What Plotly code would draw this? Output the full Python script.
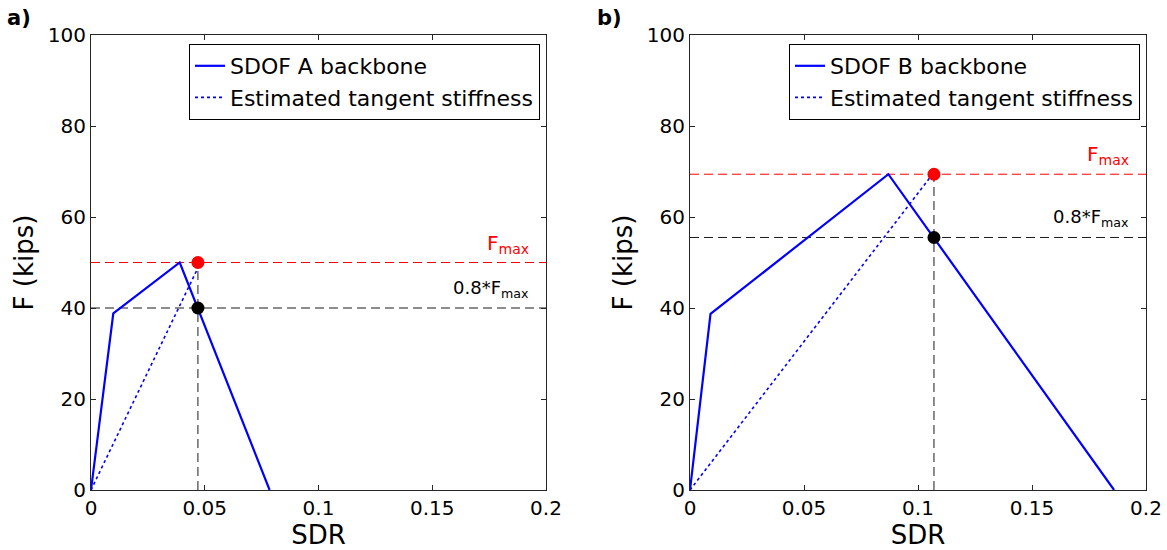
import plotly.graph_objects as go

# ---------------- data ----------------
sdr_A = [0.0, 0.0098, 0.039, 0.0785]
F_A = [0.0, 38.8, 50.0, 0.0]
tan_sdr_A = [0.0, 0.0465]
tan_F_A = [0.0, 48.3]
Fmax_A = 50.0
F08_A = 40.0
sdr_at_A = 0.047

sdr_B = [0.0, 0.009, 0.087, 0.186]
F_B = [0.0, 38.7, 69.4, 0.0]
tan_sdr_B = [0.0, 0.105]
tan_F_B = [0.0, 68.5]
Fmax_B = 69.4
F08_B = 55.5
sdr_at_B = 0.107

x_range = [0.0, 0.2]
y_range = [0.0, 100.0]
x_ticks = [0, 0.05, 0.1, 0.15, 0.2]
x_ticklabels = ["0", "0.05", "0.1", "0.15", "0.2"]
y_ticks = [0, 20, 40, 60, 80, 100]
legend_names_A = ["SDOF A backbone", "Estimated tangent stiffness"]
legend_names_B = ["SDOF B backbone", "Estimated tangent stiffness"]

# ---------------- style ----------------
FONT = "DejaVu Sans"
W, H = 1167, 550
BLUE = "#0000ff"
RED = "#ff0000"
GREY = "#1a1a1a"
AX = "#262626"

fig = go.Figure()


def add_panel(xa, ya, sdr, F, tsdr, tF, fmax, f08, sdr_at, names, legend):
    xref = "x" if xa == "" else "x" + xa
    yref = "y" if ya == "" else "y" + ya
    # reference dashed lines
    fig.add_trace(go.Scatter(x=x_range, y=[fmax, fmax], mode="lines",
                             line=dict(color=RED, width=1, dash="9px,5px"),
                             showlegend=False, xaxis=xref, yaxis=yref, hoverinfo="skip"))
    fig.add_trace(go.Scatter(x=x_range, y=[f08, f08], mode="lines",
                             line=dict(color=GREY, width=1, dash="9px,5px"),
                             showlegend=False, xaxis=xref, yaxis=yref, hoverinfo="skip"))
    fig.add_trace(go.Scatter(x=[sdr_at, sdr_at], y=[0, fmax], mode="lines",
                             line=dict(color=GREY, width=1, dash="9px,5px"),
                             showlegend=False, xaxis=xref, yaxis=yref, hoverinfo="skip"))
    # backbone
    fig.add_trace(go.Scatter(x=sdr, y=F, mode="lines", name=names[0],
                             line=dict(color=BLUE, width=2.2),
                             legend=legend, xaxis=xref, yaxis=yref))
    # tangent
    fig.add_trace(go.Scatter(x=tsdr, y=tF, mode="lines", name=names[1],
                             line=dict(color=BLUE, width=1.6, dash="dot"),
                             legend=legend, xaxis=xref, yaxis=yref))
    # markers
    fig.add_trace(go.Scatter(x=[sdr_at], y=[fmax], mode="markers",
                             marker=dict(color=RED, size=13),
                             showlegend=False, xaxis=xref, yaxis=yref))
    fig.add_trace(go.Scatter(x=[sdr_at], y=[f08], mode="markers",
                             marker=dict(color="black", size=13),
                             showlegend=False, xaxis=xref, yaxis=yref))
    # annotations
    fig.add_annotation(x=0.1934, y=fmax, xref=xref, yref=yref, xanchor="right",
                       yanchor="bottom", yshift=4, showarrow=False,
                       text="F<sub>max</sub>", font=dict(family=FONT, size=20, color=RED))
    fig.add_annotation(x=0.1934, y=f08, xref=xref, yref=yref, xanchor="right",
                       yanchor="bottom", yshift=5, showarrow=False,
                       text="0.8*F<sub>max</sub>", font=dict(family=FONT, size=18, color="black"))


add_panel("", "", sdr_A, F_A, tan_sdr_A, tan_F_A, Fmax_A, F08_A, sdr_at_A, legend_names_A, "legend")
add_panel("2", "2", sdr_B, F_B, tan_sdr_B, tan_F_B, Fmax_B, F08_B, sdr_at_B, legend_names_B, "legend2")

ydom = [1 - 490 / H, 1 - 35 / H]
xdomA = [91 / W, 546 / W]
xdomB = [690 / W, 1146 / W]

axis_common = dict(showline=True, linecolor=AX, linewidth=1, mirror="ticks",
                   ticks="inside", ticklen=5, tickcolor=AX, showgrid=False,
                   zeroline=False, tickfont=dict(family=FONT, size=20, color="black"),
                   automargin=False)

xa_common = dict(axis_common, range=x_range, tickvals=x_ticks, ticktext=x_ticklabels,
                 title=dict(text="SDR", font=dict(family=FONT, size=26, color="black"), standoff=4))
ya_common = dict(axis_common, range=y_range, tickvals=y_ticks,
                 title=dict(text="F (kips)", font=dict(family=FONT, size=26, color="black"), standoff=6))

legend_common = dict(bgcolor="white", bordercolor="black", borderwidth=1,
                     font=dict(family=FONT, size=22, color="black"),
                     xanchor="right", yanchor="top", tracegroupgap=0)

fig.update_layout(
    width=W, height=H,
    margin=dict(l=0, r=0, t=0, b=0),
    paper_bgcolor="white", plot_bgcolor="white",
    font=dict(family=FONT, color="black"),
    xaxis=dict(xa_common, domain=xdomA, anchor="y"),
    yaxis=dict(ya_common, domain=ydom, anchor="x"),
    xaxis2=dict(xa_common, domain=xdomB, anchor="y2"),
    yaxis2=dict(ya_common, domain=ydom, anchor="x2"),
    legend=dict(legend_common, x=540 / W, y=1 - 44 / H),
    legend2=dict(legend_common, x=1140 / W, y=1 - 44 / H),
    showlegend=True,
)

fig.add_annotation(x=5 / W, y=1 - 4 / H, xref="paper", yref="paper", xanchor="left",
                   yanchor="top", showarrow=False, text="<b>a)</b>",
                   font=dict(family=FONT, size=21, color="black"))
fig.add_annotation(x=595 / W, y=1 - 4 / H, xref="paper", yref="paper", xanchor="left",
                   yanchor="top", showarrow=False, text="<b>b)</b>",
                   font=dict(family=FONT, size=21, color="black"))

fig.write_html(
    "out.html",
    config={"displayModeBar": False},
    post_script="document.body.style.margin='0';document.body.style.overflow='hidden';",
)
